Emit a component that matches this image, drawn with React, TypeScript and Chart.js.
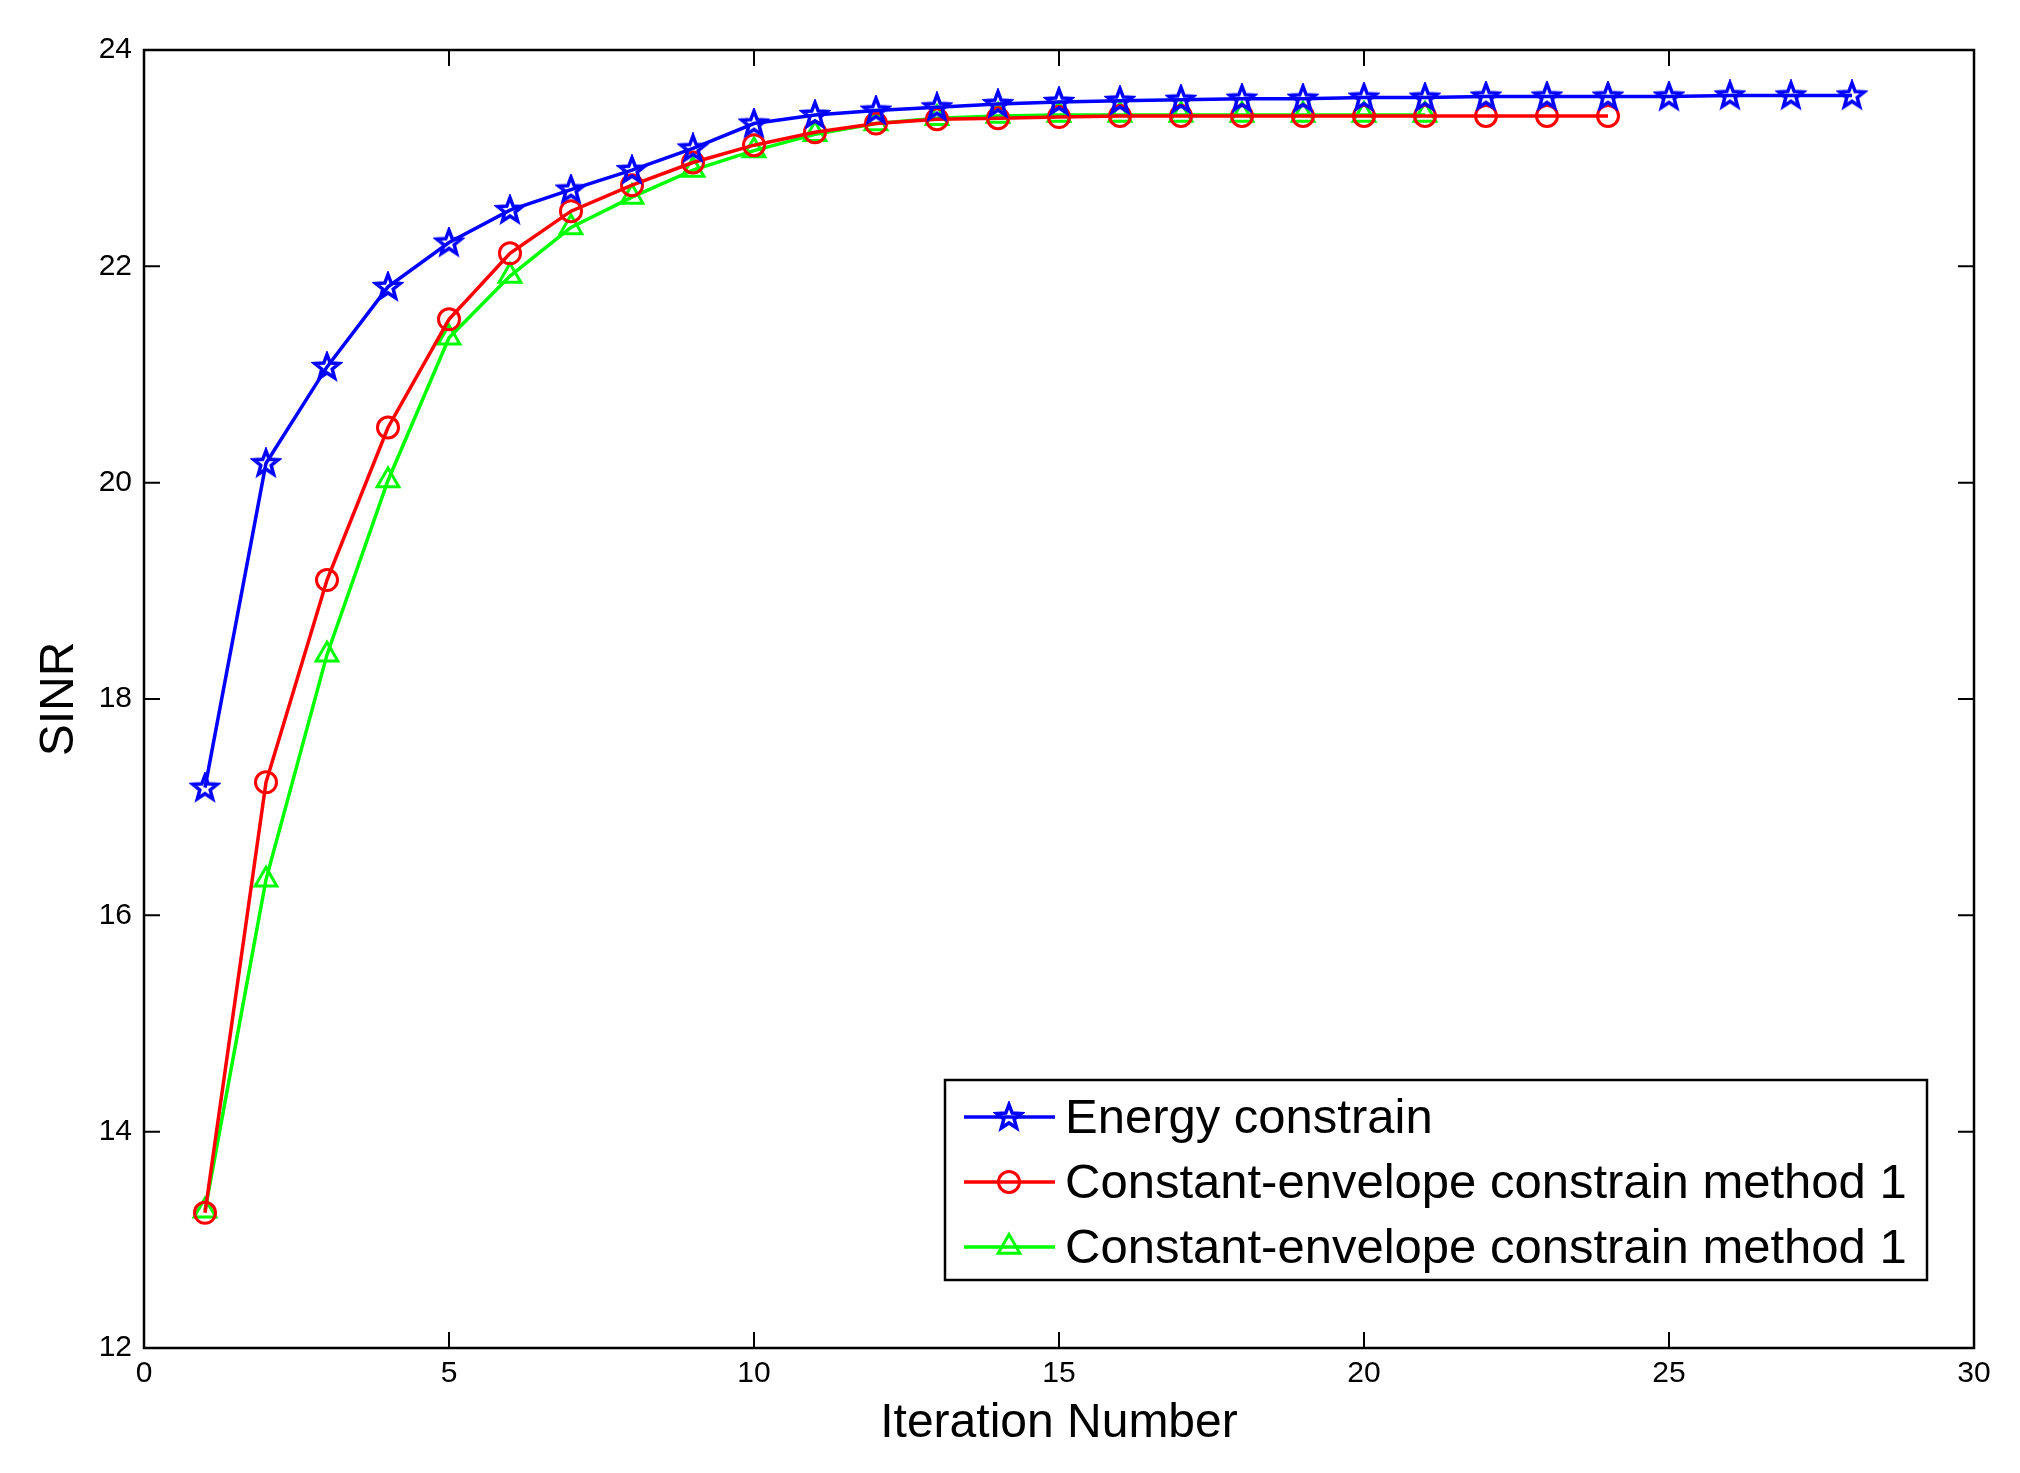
import React, { useEffect, useRef } from "react";
import { Chart, registerables } from "chart.js";

Chart.register(...registerables);

const energyIter = [1, 2, 3, 4, 5, 6, 7, 8, 9, 10, 11, 12, 13, 14, 15, 16, 17, 18, 19, 20, 21, 22, 23, 24, 25, 26, 27, 28];
const energySINR = [17.18, 20.18, 21.07, 21.81, 22.22, 22.52, 22.71, 22.89, 23.09, 23.32, 23.40, 23.44, 23.47, 23.50, 23.52, 23.53, 23.54, 23.55, 23.55, 23.56, 23.56, 23.57, 23.57, 23.57, 23.57, 23.58, 23.58, 23.58];

const ce1Iter = [1, 2, 3, 4, 5, 6, 7, 8, 9, 10, 11, 12, 13, 14, 15, 16, 17, 18, 19, 20, 21, 22, 23, 24];
const ce1SINR = [13.25, 17.23, 19.10, 20.51, 21.51, 22.12, 22.51, 22.75, 22.96, 23.12, 23.24, 23.32, 23.36, 23.37, 23.38, 23.39, 23.39, 23.39, 23.39, 23.39, 23.39, 23.39, 23.39, 23.39];

const ce2Iter = [1, 2, 3, 4, 5, 6, 7, 8, 9, 10, 11, 12, 13, 14, 15, 16, 17, 18, 19, 20, 21];
const ce2SINR = [13.27, 16.33, 18.41, 20.02, 21.34, 21.91, 22.36, 22.64, 22.89, 23.07, 23.22, 23.32, 23.37, 23.39, 23.40, 23.40, 23.40, 23.40, 23.40, 23.40, 23.40];

const seriesLabels = ["Energy constrain", "Constant-envelope constrain method 1", "Constant-envelope constrain method 1"];
const seriesColors = ["#0000ff", "#ff0000", "#00ff00"];

const xTicks = [0, 5, 10, 15, 20, 25, 30];
const yTicks = [12, 14, 16, 18, 20, 22, 24];

const FONT = '"Liberation Sans", Arial, Helvetica, sans-serif';

function makeStar(color: string): HTMLCanvasElement {
  const c = document.createElement("canvas");
  c.width = 32;
  c.height = 32;
  const g = c.getContext("2d")!;
  const R = 13;
  const r = R * 0.42;
  g.beginPath();
  for (let i = 0; i < 10; i++) {
    const rad = i % 2 === 0 ? R : r;
    const a = -Math.PI / 2 + (i * Math.PI) / 5;
    const px = 16 + rad * Math.cos(a);
    const py = 16.5 + rad * Math.sin(a);
    if (i === 0) g.moveTo(px, py);
    else g.lineTo(px, py);
  }
  g.closePath();
  g.strokeStyle = color;
  g.lineWidth = 3.5;
  g.lineJoin = "miter";
  g.stroke();
  return c;
}

function drawMarker(ctx: CanvasRenderingContext2D, style: any, x: number, y: number, color: string) {
  ctx.save();
  ctx.strokeStyle = color;
  ctx.lineWidth = 3;
  if (style instanceof HTMLCanvasElement) {
    ctx.drawImage(style, x - style.width / 2, y - style.height / 2);
  } else if (style === "circle") {
    ctx.beginPath();
    ctx.arc(x, y, 10.5, 0, Math.PI * 2);
    ctx.stroke();
  } else if (style === "triangle") {
    const r = 12.5;
    ctx.beginPath();
    ctx.moveTo(x, y - r);
    ctx.lineTo(x + r * 0.866, y + r * 0.5);
    ctx.lineTo(x - r * 0.866, y + r * 0.5);
    ctx.closePath();
    ctx.stroke();
  }
  ctx.restore();
}

const frameAndTicks = {
  id: "frameAndTicks",
  afterDatasetsDraw(chart: any) {
    const { ctx, chartArea } = chart;
    const { left, right, top, bottom } = chartArea;
    const xs = chart.scales.x;
    const ys = chart.scales.y;
    const tl = 16;
    ctx.save();
    ctx.strokeStyle = "#000";
    ctx.lineWidth = 2;
    ctx.beginPath();
    xTicks.forEach((v) => {
      const px = xs.getPixelForValue(v);
      ctx.moveTo(px, bottom);
      ctx.lineTo(px, bottom - tl);
      ctx.moveTo(px, top);
      ctx.lineTo(px, top + tl);
    });
    yTicks.forEach((v) => {
      const py = ys.getPixelForValue(v);
      ctx.moveTo(left, py);
      ctx.lineTo(left + tl, py);
      ctx.moveTo(right, py);
      ctx.lineTo(right - tl, py);
    });
    ctx.stroke();
    ctx.lineWidth = 2.5;
    ctx.strokeRect(left, top, right - left, bottom - top);
    ctx.restore();
  },
};

const boxLegend = {
  id: "boxLegend",
  afterDraw(chart: any) {
    const { ctx } = chart;
    const bx = 945, by = 1080, bw = 982, bh = 200;
    ctx.save();
    ctx.fillStyle = "#fff";
    ctx.fillRect(bx, by, bw, bh);
    ctx.strokeStyle = "#000";
    ctx.lineWidth = 2.5;
    ctx.strokeRect(bx, by, bw, bh);
    ctx.font = `49px ${FONT}`;
    ctx.textBaseline = "middle";
    ctx.textAlign = "left";
    chart.data.datasets.forEach((ds: any, i: number) => {
      const cy = by + 37 + i * 65;
      ctx.strokeStyle = ds.borderColor;
      ctx.lineWidth = 3.5;
      ctx.beginPath();
      ctx.moveTo(bx + 19, cy);
      ctx.lineTo(bx + 110, cy);
      ctx.stroke();
      drawMarker(ctx, ds.pointStyle, bx + 64, cy, ds.borderColor);
      ctx.fillStyle = "#000";
      ctx.fillText(ds.label, bx + 120, cy + 2);
    });
    ctx.restore();
  },
};

export default function App() {
  const ref = useRef<HTMLCanvasElement | null>(null);
  useEffect(() => {
    if (!ref.current) return;
    const star = makeStar(seriesColors[0]);
    const mk = (xs: number[], ys: number[]) => xs.map((x, i) => ({ x, y: ys[i] }));
    const common = {
      backgroundColor: "rgba(0,0,0,0)",
      borderWidth: 3.5,
      pointBorderWidth: 3,
      pointBackgroundColor: "rgba(0,0,0,0)",
      tension: 0,
    };
    const chart = new Chart(ref.current, {
      type: "line",
      data: {
        datasets: [
          {
            ...common,
            label: seriesLabels[0],
            data: mk(energyIter, energySINR),
            borderColor: seriesColors[0],
            pointStyle: star as any,
            pointRadius: 13,
            pointBorderColor: seriesColors[0],
          },
          {
            ...common,
            label: seriesLabels[1],
            data: mk(ce1Iter, ce1SINR),
            borderColor: seriesColors[1],
            pointStyle: "circle",
            pointRadius: 10.5,
            pointBorderColor: seriesColors[1],
          },
          {
            ...common,
            label: seriesLabels[2],
            data: mk(ce2Iter, ce2SINR),
            borderColor: seriesColors[2],
            pointStyle: "triangle",
            pointRadius: 12.5,
            pointBorderColor: seriesColors[2],
          },
        ],
      },
      options: {
        animation: false,
        responsive: false,
        devicePixelRatio: 1,
        layout: { padding: { top: 50, right: 46, left: 0, bottom: 0 } },
        plugins: { legend: { display: false }, tooltip: { enabled: false } },
        scales: {
          x: {
            type: "linear",
            min: 0,
            max: 30,
            afterFit: (s: any) => { s.height = 125; },
            afterBuildTicks: (s: any) => { s.ticks = xTicks.map((v) => ({ value: v })); },
            grid: { display: false, drawTicks: false },
            border: { display: false },
            ticks: { color: "#000", font: { family: FONT, size: 30 }, padding: 8, maxRotation: 0 },
            title: { display: true, text: "Iteration Number", color: "#000", font: { family: FONT, size: 48 }, padding: { top: 0, bottom: 20 } },
          },
          y: {
            type: "linear",
            min: 12,
            max: 24,
            afterFit: (s: any) => { s.width = 144; },
            afterBuildTicks: (s: any) => { s.ticks = yTicks.map((v) => ({ value: v })); },
            grid: { display: false, drawTicks: false },
            border: { display: false },
            ticks: { color: "#000", font: { family: FONT, size: 30 }, padding: 12 },
            title: { display: true, text: "SINR", color: "#000", font: { family: FONT, size: 48 }, padding: { top: 31, bottom: 0 } },
          },
        },
      },
      plugins: [frameAndTicks, boxLegend],
    });
    return () => chart.destroy();
  }, []);
  return (
    <div style={{ position: "absolute", left: 0, top: 0, width: 2020, height: 1473, background: "#fff" }}>
      <canvas ref={ref} width={2020} height={1473} style={{ display: "block" }} />
    </div>
  );
}
